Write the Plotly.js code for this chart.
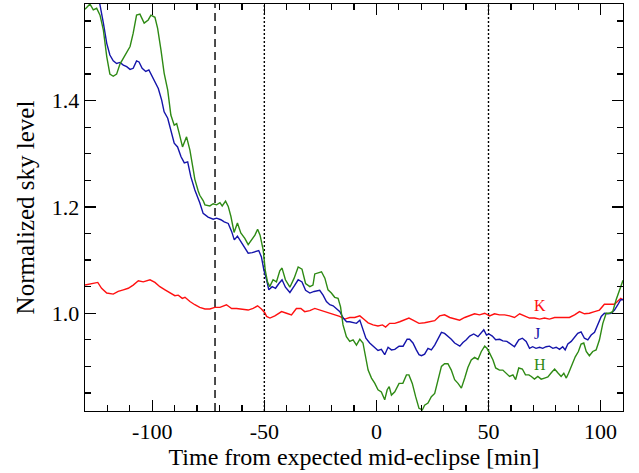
<!DOCTYPE html>
<html>
<head>
<meta charset="utf-8">
<script src="https://cdn.plot.ly/plotly-3.0.1.min.js"></script>
<style>html,body{margin:0;padding:0;background:#fff}#plot{width:639px;height:473px}</style>
</head>
<body>
<div id="plot"></div>
<script>
// H band (green)
var hTime = [-130.0,-127.8,-126.3,-124.8,-123.3,-121.8,-120.3,-118.9,-117.4,-115.9,-114.4,-112.9,-111.4,-109.9,-108.5,-107.0,-105.5,-103.6,-101.8,-100.6,-98.8,-97.6,-96.1,-94.7,-93.1,-91.7,-90.2,-89.1,-88.0,-86.5,-84.7,-83.2,-81.7,-81.0,-79.5,-78.8,-77.3,-76.5,-74.3,-72.8,-71.3,-69.8,-68.8,-67.3,-66.1,-64.9,-63.5,-62.0,-60.5,-58.7,-57.2,-55.4,-54.2,-53.0,-51.9,-50.5,-49.6,-48.6,-47.6,-46.1,-44.6,-43.1,-42.1,-40.6,-38.6,-36.7,-34.9,-33.2,-31.6,-29.7,-28.3,-27.5,-26.0,-24.5,-23.0,-21.6,-20.1,-18.6,-17.1,-16.0,-14.9,-13.4,-11.9,-10.4,-8.9,-7.4,-6.0,-4.7,-3.7,-2.2,-0.7,0.7,2.2,3.7,4.8,5.7,6.7,8.2,10.1,11.8,13.4,14.5,16.0,17.5,19.0,20.5,21.5,23.0,24.5,26.0,27.5,29.0,30.4,31.9,33.4,34.9,36.4,37.9,39.4,40.8,42.3,43.8,45.3,46.8,48.3,49.3,50.5,52.0,53.2,54.9,56.4,57.9,59.4,60.9,62.1,63.5,65.1,66.5,68.0,69.1,70.5,72.0,73.5,75.0,76.5,78.0,79.5,80.9,82.4,83.6,84.7,85.7,87.2,88.7,90.1,91.3,92.5,93.6,95.0,96.5,98.0,99.5,101.0,102.5,104.0,105.4,106.9,108.4,110.0];
var hLevel = [1.572,1.582,1.571,1.574,1.561,1.533,1.483,1.450,1.446,1.450,1.469,1.480,1.492,1.502,1.527,1.561,1.563,1.546,1.552,1.561,1.557,1.536,1.495,1.452,1.420,1.373,1.354,1.357,1.339,1.313,1.332,1.307,1.270,1.252,1.230,1.222,1.212,1.204,1.202,1.206,1.204,1.208,1.202,1.211,1.201,1.182,1.152,1.170,1.151,1.141,1.129,1.141,1.147,1.158,1.147,1.119,1.081,1.059,1.050,1.063,1.059,1.080,1.085,1.063,1.049,1.066,1.087,1.083,1.056,1.050,1.053,1.074,1.076,1.078,1.066,1.044,1.038,1.030,1.028,1.012,0.978,0.956,0.947,0.950,0.940,0.951,0.944,0.918,0.893,0.878,0.868,0.856,0.852,0.837,0.856,0.862,0.846,0.852,0.868,0.868,0.884,0.884,0.868,0.843,0.821,0.818,0.827,0.831,0.843,0.849,0.875,0.900,0.905,0.905,0.893,0.875,0.868,0.859,0.878,0.898,0.912,0.917,0.913,0.928,0.938,0.934,0.925,0.912,0.897,0.893,0.893,0.887,0.881,0.884,0.875,0.897,0.895,0.884,0.884,0.881,0.876,0.881,0.876,0.878,0.880,0.888,0.895,0.888,0.881,0.887,0.878,0.887,0.903,0.918,0.928,0.942,0.944,0.928,0.920,0.928,0.931,0.950,0.981,1.000,1.000,1.003,1.025,1.044,1.062];

// J band (blue)
var jTime = [-130.0,-127.0,-125.0,-123.3,-121.8,-120.3,-118.9,-117.4,-115.9,-114.4,-112.9,-111.4,-109.9,-108.5,-107.0,-105.9,-104.5,-102.9,-101.5,-100.3,-98.8,-97.3,-95.8,-94.7,-93.1,-91.7,-90.2,-88.7,-87.2,-85.7,-84.2,-82.8,-81.0,-78.8,-77.3,-75.1,-72.8,-71.3,-69.4,-67.9,-66.1,-64.6,-63.4,-62.0,-60.5,-58.7,-57.2,-55.4,-53.9,-52.5,-51.3,-50.2,-49.0,-48.0,-46.5,-45.0,-43.5,-42.1,-40.6,-38.6,-36.7,-34.9,-33.2,-31.6,-29.7,-27.8,-25.3,-23.8,-22.3,-20.8,-19.3,-17.8,-16.3,-14.8,-13.3,-11.9,-10.4,-8.9,-7.4,-6.2,-4.7,-3.0,-1.2,0.7,2.2,3.7,5.2,6.7,8.2,10.1,11.9,13.7,14.8,16.3,17.8,19.0,20.1,21.5,23.0,24.5,26.0,27.5,29.0,30.4,31.9,33.4,34.9,37.2,38.6,40.1,41.6,43.4,45.3,46.8,47.9,49.1,50.2,51.7,53.2,55.0,56.4,58.2,59.7,61.6,63.5,65.1,66.8,68.3,69.7,71.2,72.8,74.2,75.7,77.2,78.7,80.2,81.7,83.1,84.2,85.4,86.9,88.4,89.8,91.3,92.8,94.3,95.8,97.3,98.7,100.3,101.7,103.2,104.7,106.2,107.7,108.9,110.0];
var jLevel = [1.720,1.660,1.620,1.580,1.546,1.508,1.486,1.475,1.470,1.472,1.467,1.464,1.459,1.461,1.475,1.473,1.461,1.455,1.458,1.448,1.438,1.423,1.401,1.379,1.367,1.342,1.320,1.313,1.295,1.283,1.285,1.257,1.232,1.208,1.188,1.181,1.177,1.179,1.176,1.172,1.169,1.154,1.138,1.145,1.135,1.125,1.113,1.114,1.116,1.118,1.106,1.081,1.063,1.044,1.050,1.047,1.056,1.063,1.049,1.039,1.051,1.063,1.059,1.043,1.038,1.041,1.043,1.034,1.022,1.016,1.014,1.009,1.003,0.991,0.984,0.984,0.982,0.981,0.987,0.972,0.953,0.944,0.937,0.930,0.932,0.922,0.936,0.931,0.932,0.938,0.938,0.951,0.951,0.944,0.931,0.922,0.920,0.923,0.934,0.931,0.940,0.953,0.964,0.962,0.957,0.951,0.944,0.938,0.945,0.950,0.957,0.961,0.956,0.964,0.969,0.959,0.961,0.957,0.950,0.951,0.948,0.947,0.942,0.937,0.950,0.953,0.947,0.934,0.937,0.934,0.936,0.934,0.937,0.938,0.934,0.936,0.932,0.937,0.931,0.942,0.947,0.956,0.962,0.965,0.953,0.950,0.959,0.964,0.978,0.994,1.000,0.999,1.000,1.006,1.016,1.025,1.026];

// K band (red)
var kTime = [-130.0,-127.0,-124.3,-122.6,-120.3,-117.4,-115.2,-112.9,-110.7,-108.5,-106.2,-104.0,-101.0,-98.8,-96.6,-94.3,-92.1,-89.9,-88.4,-86.6,-85.4,-83.2,-81.0,-78.8,-76.5,-74.3,-72.1,-69.8,-66.9,-64.6,-62.4,-60.2,-57.2,-55.0,-53.0,-51.3,-49.8,-49.0,-47.5,-45.3,-42.3,-40.1,-37.9,-35.7,-33.7,-32.0,-29.7,-27.5,-25.3,-23.0,-20.8,-18.6,-16.4,-14.1,-11.9,-9.7,-7.4,-5.7,-3.7,-1.5,0.7,2.7,4.1,5.9,8.2,10.4,12.6,14.5,16.3,19.0,21.5,23.7,26.0,28.2,30.4,32.7,34.9,37.1,39.4,41.6,43.8,46.0,48.3,50.5,52.7,54.9,57.2,59.4,61.6,63.9,66.1,68.3,70.5,72.8,75.0,77.2,79.5,81.7,83.9,86.1,88.4,90.6,92.8,95.0,97.3,99.5,101.7,104.0,106.2,107.5,109.0,110.0];
var kLevel = [1.053,1.055,1.058,1.047,1.038,1.036,1.041,1.044,1.047,1.053,1.061,1.059,1.063,1.058,1.050,1.044,1.039,1.033,1.034,1.028,1.030,1.022,1.016,1.011,1.008,1.008,1.011,1.011,1.016,1.009,1.009,1.008,1.006,1.009,1.014,1.008,1.001,0.994,0.991,0.995,1.003,1.000,0.997,1.009,1.009,1.003,1.005,1.009,1.006,1.003,0.999,0.997,0.994,0.989,0.992,0.992,0.995,0.989,0.982,0.978,0.976,0.978,0.974,0.981,0.981,0.984,0.987,0.991,0.987,0.981,0.982,0.984,0.986,0.995,0.997,0.992,0.989,0.987,0.992,0.995,0.999,0.997,1.000,0.995,0.999,0.997,0.997,0.995,0.992,0.999,0.995,0.991,0.991,0.989,0.991,0.989,0.992,0.992,0.991,0.992,0.997,1.003,0.999,1.000,1.003,1.006,1.017,1.017,1.017,1.022,1.028,1.025];

var bandNames = ['K', 'J', 'H'];
var bandLabelX = [72.8, 71.6, 72.8];
var bandLabelY = [1.0137, 0.962, 0.903];
var bandColors = ['#ff1010', '#1414aa', '#2e8a14'];

var dashedLineX = [-72];
var dottedLineX = [-50, 50];

var xTickVals = [-100, -50, 0, 50, 100];
var xTickText = ['-100', '-50', '0', '50', '100'];
var yTickVals = [1.0, 1.2, 1.4];
var yTickText = ['1.0', '1.2', '1.4'];

var fontFam = 'Liberation Serif, Times New Roman, serif';

var traces = [
  {x: kTime, y: kLevel, type: 'scatter', mode: 'lines', line: {color: bandColors[0], width: 1.4}, hoverinfo: 'skip'},
  {x: jTime, y: jLevel, type: 'scatter', mode: 'lines', line: {color: bandColors[1], width: 1.4}, hoverinfo: 'skip'},
  {x: hTime, y: hLevel, type: 'scatter', mode: 'lines', line: {color: bandColors[2], width: 1.4}, hoverinfo: 'skip'}
];

var shapes = [];
dashedLineX.forEach(function (v) {
  shapes.push({type: 'line', xref: 'x', yref: 'paper', x0: v, x1: v, y0: 0, y1: 1, layer: 'below', line: {color: '#000', width: 1.4, dash: '8px,5px'}});
});
dottedLineX.forEach(function (v) {
  shapes.push({type: 'line', xref: 'x', yref: 'paper', x0: v, x1: v, y0: 0, y1: 1, layer: 'below', line: {color: '#000', width: 1.4, dash: '2px,2px'}});
});

var annotations = bandNames.map(function (n, i) {
  return {x: bandLabelX[i], y: bandLabelY[i], xref: 'x', yref: 'y', text: n, showarrow: false,
          font: {family: fontFam, size: 16, color: bandColors[i]}};
});

var layout = {
  width: 639, height: 473,
  margin: {l: 85, r: 16, t: 4, b: 62},
  paper_bgcolor: '#fff', plot_bgcolor: '#fff',
  showlegend: false,
  font: {family: fontFam, size: 22, color: '#000'},
  xaxis: {
    range: [-130, 110], autorange: false,
    tickmode: 'array', tickvals: xTickVals, ticktext: xTickText,
    ticks: 'inside', ticklen: 11, tickwidth: 1.3, tickcolor: '#000',
    showline: true, linecolor: '#000', linewidth: 1.3, mirror: 'ticks',
    showgrid: false, zeroline: false,
    minor: {dtick: 10, tick0: 0, ticks: 'inside', ticklen: 6, tickwidth: 1.3, tickcolor: '#000', showgrid: false},
    tickfont: {family: fontFam, size: 22, color: '#000'},
    title: {text: 'Time from expected mid-eclipse [min]', font: {family: fontFam, size: 24, color: '#000'}, standoff: 0}
  },
  yaxis: {
    range: [0.816, 1.582], autorange: false,
    tickmode: 'array', tickvals: yTickVals, ticktext: yTickText,
    ticks: 'inside', ticklen: 11, tickwidth: 1.3, tickcolor: '#000',
    showline: true, linecolor: '#000', linewidth: 1.3, mirror: 'ticks',
    showgrid: false, zeroline: false,
    minor: {dtick: 0.05, tick0: 0, ticks: 'inside', ticklen: 6, tickwidth: 1.3, tickcolor: '#000', showgrid: false},
    tickfont: {family: fontFam, size: 22, color: '#000'},
    title: {text: 'Normalized sky level', font: {family: fontFam, size: 25, color: '#000'}, standoff: 10}
  },
  shapes: shapes,
  annotations: annotations
};

Plotly.newPlot('plot', traces, layout, {staticPlot: true, displayModeBar: false});
</script>
</body>
</html>
